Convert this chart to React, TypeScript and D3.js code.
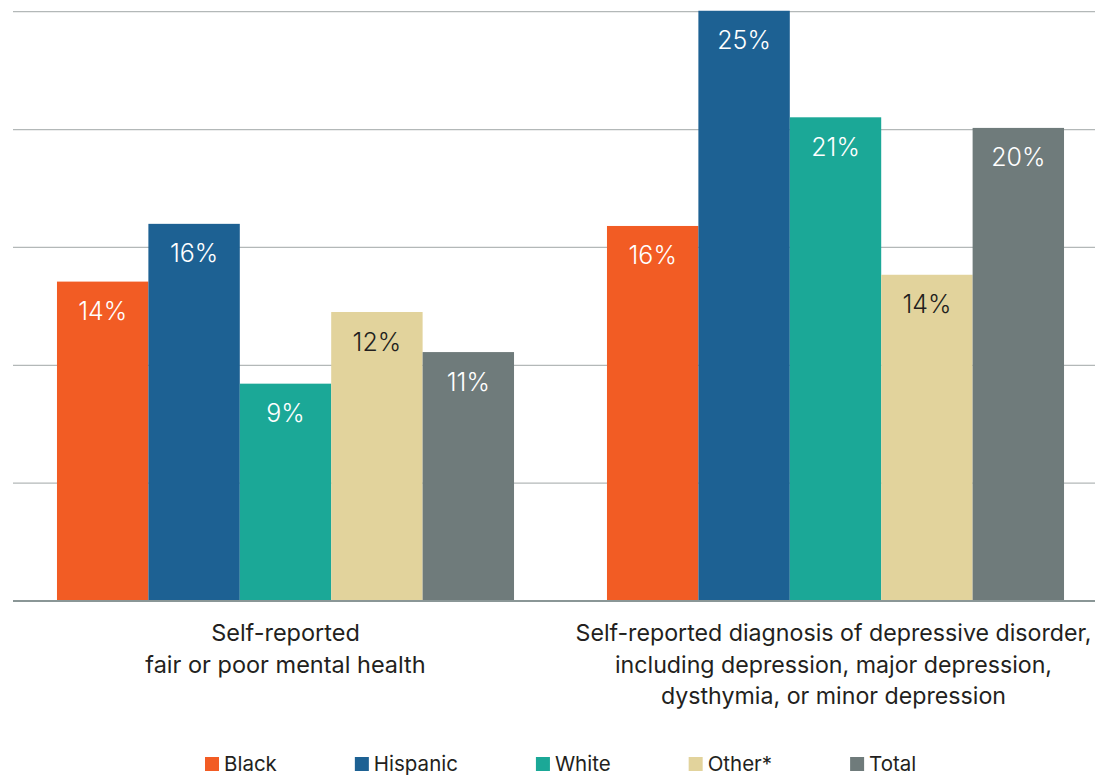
import React from "react";
import * as d3 from "d3";

const categories = [
  ["Self-reported", "fair or poor mental health"],
  [
    "Self-reported diagnosis of depressive disorder,",
    "including depression, major depression,",
    "dysthymia, or minor depression",
  ],
];
const categoryKeys = ["mental", "depressive"];
const series = ["Black", "Hispanic", "White", "Other*", "Total"];
const colors = ["#F25C24", "#1D6193", "#1BA897", "#E2D39C", "#6F7B7B"];
const labelColors = ["#ffffff", "#ffffff", "#ffffff", "#231F20", "#ffffff"];
const valuesMental = [13.55, 16.0, 9.22, 12.26, 10.56];
const valuesDepressive = [15.91, 25.04, 20.52, 13.84, 20.07];
const valueLabels = [
  ["14%", "16%", "9%", "12%", "11%"],
  ["16%", "25%", "21%", "14%", "20%"],
];
const gridTicks = [5, 10, 15, 20, 25];

const W = 1095;
const H = 775;
const FONT = "Inter, 'DejaVu Sans', sans-serif";

function measure(text: string, font: string): number {
  const c = document.createElement("canvas");
  const ctx = c.getContext("2d");
  if (!ctx) return text.length * 10;
  ctx.font = font;
  return ctx.measureText(text).width;
}

export default function App() {
  const allValues = [valuesMental, valuesDepressive];
  const x0 = d3
    .scaleBand<string>()
    .domain(categoryKeys)
    .range([10.5, 1110.5])
    .paddingInner(0.169)
    .paddingOuter(0.0845);
  const x1 = d3
    .scaleBand<string>()
    .domain(series)
    .range([0, x0.bandwidth()])
    .padding(0);
  const y = d3.scaleLinear().domain([0, 25]).range([601, 11.7]);

  const legendSize = 20.5;
  const legendFont = `${legendSize}px ${FONT}`;
  let lx = 205;
  const legendItems = series.map((s, i) => {
    const item = { s, i, x: lx };
    lx += 14 + 5 + measure(s, legendFont) + 78;
    return item;
  });

  return (
    <svg
      width={W}
      height={H}
      style={{ position: "absolute", left: 0, top: 0, background: "#fff" }}
      fontFamily={FONT}
    >
      {gridTicks.map((t) => (
        <line
          key={t}
          x1={13}
          x2={W}
          y1={y(t)}
          y2={y(t)}
          stroke="#B3B8B8"
          strokeWidth={1.3}
        />
      ))}
      {categoryKeys.map((k, ci) => (
        <g key={k} transform={`translate(${x0(k)},0)`}>
          {series.map((s, si) => {
            const v = allValues[ci][si];
            const bx = x1(s) as number;
            return (
              <g key={s}>
                <rect
                  x={bx}
                  y={y(v)}
                  width={x1.bandwidth()}
                  height={y(0) - y(v)}
                  fill={colors[si]}
                />
                <text
                  x={bx + x1.bandwidth() / 2}
                  y={y(v) + 38.5}
                  textAnchor="middle"
                  fontSize={25}
                  fontWeight={300}
                  fill={labelColors[si]}
                >
                  {valueLabels[ci][si]}
                </text>
              </g>
            );
          })}
        </g>
      ))}
      <line
        x1={13}
        x2={W}
        y1={y(0)}
        y2={y(0)}
        stroke="#8A9696"
        strokeWidth={2}
      />
      {categoryKeys.map((k, ci) => {
        const cx = (x0(k) as number) + x0.bandwidth() / 2 - (ci === 1 ? 2 : 0);
        return (
          <text
            key={k}
            x={cx}
            y={641}
            textAnchor="middle"
            fontSize={ci === 1 ? 23.2 : 23.5}
            fill="#231F20"
          >
            {categories[ci].map((line, li) => (
              <tspan key={li} x={cx} dy={li === 0 ? 0 : 31.5}>
                {line}
              </tspan>
            ))}
          </text>
        );
      })}
      {legendItems.map(({ s, i, x }) => (
        <g key={s}>
          <rect x={x} y={757} width={14} height={14} fill={colors[i]} />
          <text x={x + 19} y={771} fontSize={legendSize} fill="#231F20">
            {s}
          </text>
        </g>
      ))}
    </svg>
  );
}
